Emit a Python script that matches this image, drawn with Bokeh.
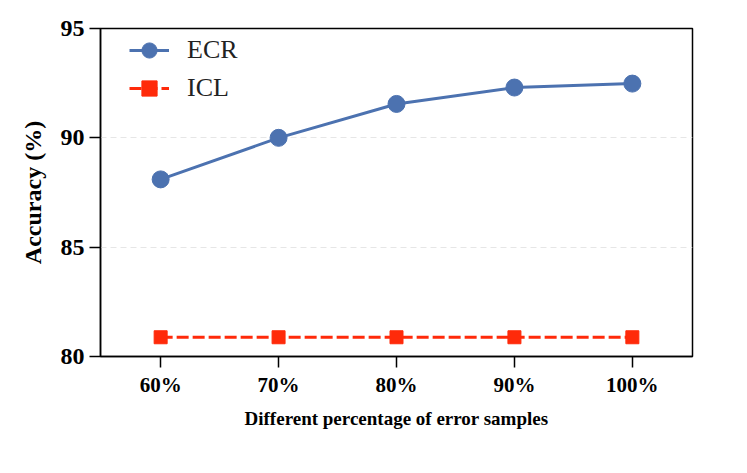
from bokeh.plotting import figure
from bokeh.models import FixedTicker, Range1d, Legend, LegendItem
from bokeh.embed import file_html
from bokeh.resources import INLINE

categories = ["60%", "70%", "80%", "90%", "100%"]
ecr = [88.1, 90.0, 91.55, 92.3, 92.48]
icl = [80.88, 80.88, 80.88, 80.88, 80.88]
y_ticks = [80, 85, 90, 95]

xs = list(range(len(categories)))
FONT = "Liberation Serif"

p = figure(width=739, height=465, output_backend="svg", toolbar_location=None,
           x_range=Range1d(-0.51, len(categories) - 1 + 0.51), y_range=Range1d(80, 95),
           min_border_left=100, min_border_right=47, min_border_top=28, min_border_bottom=109)
p.frame_width = 592
p.frame_height = 328

p.outline_line_color = "black"
p.outline_line_width = 1.5
p.background_fill_color = "white"

p.xgrid.visible = False
p.ygrid.grid_line_color = "#e6e6e6"
p.ygrid.grid_line_dash = "6 4"
p.ygrid.grid_line_width = 1

p.xaxis.ticker = FixedTicker(ticks=xs)
p.xaxis.major_label_overrides = {i: c for i, c in enumerate(categories)}
p.yaxis.ticker = FixedTicker(ticks=y_ticks)

for ax in (p.xaxis[0], p.yaxis[0]):
    ax.axis_line_color = "black"
    ax.axis_line_width = 1.5
    ax.major_tick_line_color = "black"
    ax.major_tick_line_width = 1.5
    ax.major_tick_out = 11
    ax.major_tick_in = 0
    ax.minor_tick_line_color = None
    ax.major_label_text_font = FONT
    ax.major_label_text_font_style = "bold"
    ax.major_label_text_color = "black"
    ax.axis_label_text_font = FONT
    ax.axis_label_text_font_style = "bold"
    ax.axis_label_text_color = "black"

p.xaxis.major_label_text_font_size = "21px"
p.yaxis.major_label_text_font_size = "24px"
p.xaxis.major_label_standoff = 5
p.yaxis.major_label_standoff = 5
p.xaxis.axis_label = "Different percentage of error samples"
p.yaxis.axis_label = "Accuracy (%)"
p.xaxis.axis_label_text_font_size = "19px"
p.yaxis.axis_label_text_font_size = "24px"
p.xaxis.axis_label_standoff = 8
p.yaxis.axis_label_standoff = 12

blue = "#4c72b0"
red = "#ff2a0a"

l1 = p.line(xs, ecr, line_color=blue, line_width=3)
m1 = p.scatter(xs, ecr, marker="circle", size=17, fill_color=blue, line_color=blue)
l2 = p.line(xs, icl, line_color=red, line_width=2.8, line_dash="12 4")
m2 = p.scatter(xs, icl, marker="square", size=13, fill_color=red, line_color=red)

legend = Legend(items=[LegendItem(label="ECR", renderers=[l1, m1]),
                       LegendItem(label="ICL", renderers=[l2, m2])],
                location=(29, 249))
legend.border_line_color = None
legend.background_fill_alpha = 0
legend.label_text_font = FONT
legend.label_text_font_size = "26px"
legend.label_text_color = "#222222"
legend.glyph_width = 40
legend.glyph_height = 38
legend.label_standoff = 18
legend.spacing = -2
legend.margin = 0
legend.padding = 10
p.add_layout(legend)

open("out.html", "w").write(file_html(p, INLINE))
